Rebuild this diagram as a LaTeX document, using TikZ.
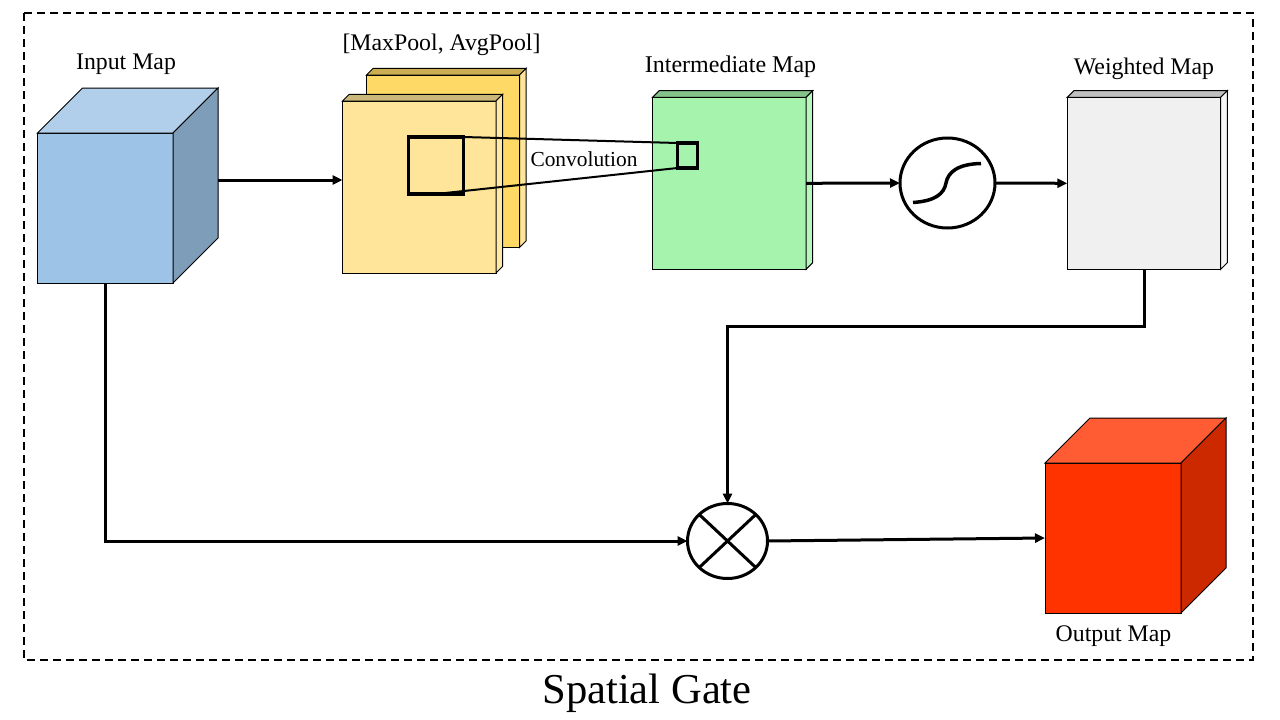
\documentclass[tikz,border=0pt]{standalone}
\usepackage{fontspec}
\setmainfont{Liberation Serif}
\usetikzlibrary{arrows.meta,shapes.geometric}
\definecolor{inputfront}{HTML}{9DC3E6}
\definecolor{inputtop}{HTML}{B1CFEB}
\definecolor{inputside}{HTML}{7E9DB8}
\definecolor{backfront}{HTML}{FFD966}
\definecolor{backtop}{HTML}{CCAE52}
\definecolor{backside}{HTML}{FFE599}
\definecolor{poolfront}{HTML}{FFE599}
\definecolor{pooltop}{HTML}{CCB77A}
\definecolor{poolside}{HTML}{FFE9A8}
\definecolor{greenfront}{HTML}{A5F3AD}
\definecolor{greentop}{HTML}{84C28A}
\definecolor{greenside}{HTML}{B7F6BE}
\definecolor{greyfront}{HTML}{F0F0F0}
\definecolor{greytop}{HTML}{C0C0C0}
\definecolor{greyside}{HTML}{F6F6F6}
\definecolor{redfront}{HTML}{FF3300}
\definecolor{redtop}{HTML}{FF5C33}
\definecolor{redside}{HTML}{CC2900}
\tikzset{
  face/.style={draw=black, line width=1pt},
  frontface/.style={face, inner sep=0pt, outer sep=0pt},
  maplabel/.style={inner sep=0pt, font=\fontsize{23.8}{28}\selectfont},
  kernel/.style={draw=black, line width=3.4pt, inner sep=0pt, outer sep=0pt},
  link/.style={line width=3pt, -{Triangle[length=10pt,width=9pt]}},
  opnode/.style={ellipse, draw=black, line width=3pt, fill=white, inner sep=0pt, outer sep=0pt},
}
\begin{document}
\begin{tikzpicture}[x=1pt, y=-1pt]
  \useasboundingbox (0, 0) rectangle (1280, 720);
  \draw [line width=2pt, dash pattern=on 8pt off 5pt] (24, 13) rectangle (1253, 660);
  % map boxes, back to front
  \foreach \name/\xa/\ya/\xb/\yb/\d/\colfront/\coltop/\colside in {
    input/37.5/133/173/283/45/inputfront/inputtop/inputside,
    poolback/366.5/75/519.5/247.5/6.7/backfront/backtop/backside,
    pool/342.5/101/496/273/6.7/poolfront/pooltop/poolside,
    inter/652.5/97.3/806/269.3/6.7/greenfront/greentop/greenside,
    weighted/1067.3/97.3/1220.7/269.3/6.7/greyfront/greytop/greyside,
    output/1045/463/1181/613/45/redfront/redtop/redside}
  {
    \node (\name) at ({(\xa+\xb)/2}, {(\ya+\yb)/2}) [frontface, fill=\colfront,
      minimum width={(\xb-\xa)*1pt}, minimum height={(\yb-\ya)*1pt}] {};
    \draw [face, fill=\coltop] (\name.north west) -- +(\d, -\d) -- ([shift={(\d, -\d)}]\name.north east) -- (\name.north east) -- cycle;
    \draw [face, fill=\colside] (\name.north east) -- +(\d, -\d) -- ([shift={(\d, -\d)}]\name.south east) -- (\name.south east) -- cycle;
  }
  \node (kernelbig) at (436, 165.5) [kernel, minimum width=55pt, minimum height=57pt] {};
  \node (kernelsmall) at (687.5, 155.5) [kernel, minimum width=20pt, minimum height=25pt] {};
  \draw [line width=2pt] (kernelbig.north east) -- (kernelsmall.north west);
  \draw [line width=2pt] (kernelbig.south) -- (kernelsmall.south west);
  % operators
  \node (sigmoid) at (947.5, 183) [opnode, minimum width=95pt, minimum height=90pt] {};
  \draw [line width=3.5pt] (913, 202.5) .. controls (935, 201) and (944, 194) .. (946, 183)
    .. controls (948, 172) and (958, 164) .. (981, 163.5);
  \node (mult) at (727.5, 541) [opnode, minimum width=80pt, minimum height=75pt] {};
  \draw [line width=3pt] (mult.north west) -- (mult.south east);
  \draw [line width=3pt] (mult.north east) -- (mult.south west);
  % connectors
  \coordinate (inputout) at (218, 180);
  \draw [link] (inputout) -- (inputout -| pool.west);
  \draw [link] (inter.east) -- (sigmoid.west);
  \draw [link] (sigmoid.east) -- (weighted.west);
  \draw [link] (weighted.south) -- ++(0, 57) -| (mult.north);
  \draw [link] (input.south) |- (mult.west);
  \draw [link] (mult.east) -- (output.west);
  % labels
  \node (inputlabel) at (126, 64) [maplabel] {Input Map};
  \node (poollabel) at (441.5, 45) [maplabel] {[MaxPool, AvgPool]};
  \node (interlabel) at (730.5, 67) [maplabel, font=\fontsize{24}{28}\selectfont] {Intermediate Map};
  \node (weightedlabel) at (1144, 69) [maplabel] {Weighted Map};
  \node (outputlabel) at (1113.5, 636) [maplabel] {Output Map};
  \node (convlabel) at (584, 159) [maplabel, font=\fontsize{21.4}{25}\selectfont] {Convolution};
  \node (gatelabel) at (647, 693.5) [maplabel, font=\fontsize{42.6}{50}\selectfont] {Spatial Gate};
\end{tikzpicture}
\end{document}
